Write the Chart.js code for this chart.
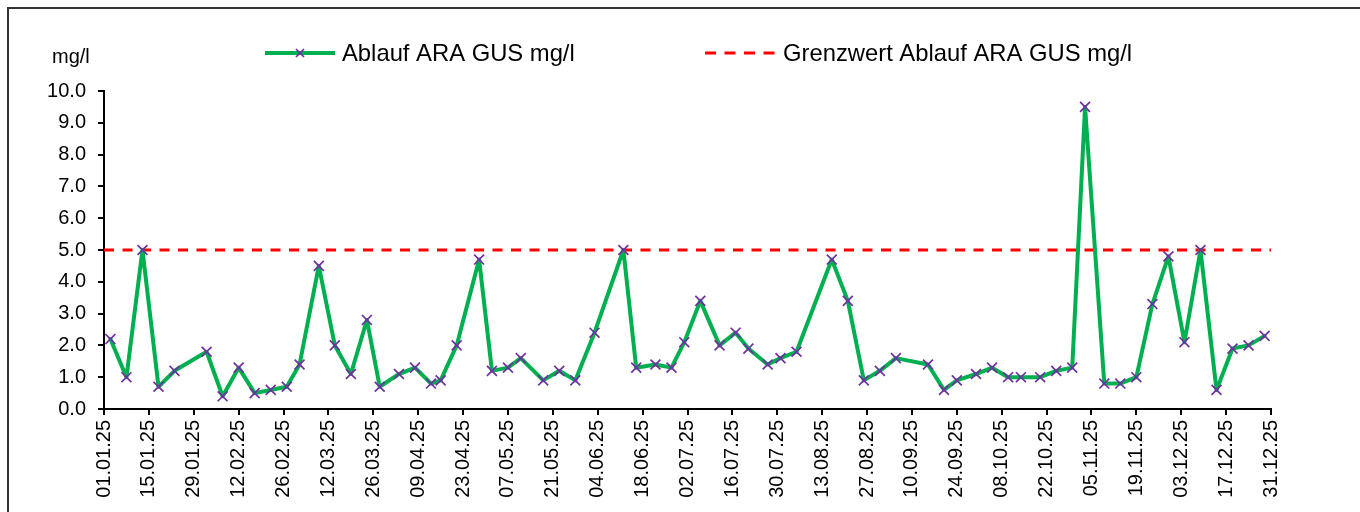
<!DOCTYPE html>
<html>
<head>
<meta charset="utf-8">
<script src="https://cdn.jsdelivr.net/npm/chart.js@4"></script>
<style>
  html, body { margin: 0; padding: 0; background: #fff; }
  #wrap { position: relative; width: 1360px; height: 512px; overflow: hidden; }
  #frame { position: absolute; left: 7px; top: 7px; width: 1400px; height: 600px;
           border-left: 2px solid #333; border-top: 2px solid #333; }
  canvas { position: absolute; left: 0; top: 0; }
</style>
</head>
<body>
<div id="wrap">
  <div id="frame"></div>
  <canvas id="c" width="1360" height="512"></canvas>
</div>
<script>
// ---- data ----
const seriesLabel = "Ablauf ARA GUS mg/l";
const limitLabel = "Grenzwert Ablauf ARA GUS mg/l";
const unitLabel = "mg/l";
const year = 2025;
const sampleDates = ["03.01","08.01","13.01","18.01","23.01","02.02","07.02","12.02","17.02","22.02",
  "27.02","03.03","09.03","14.03","19.03","24.03","28.03","03.04","08.04","13.04",
  "16.04","21.04","28.04","02.05","07.05","11.05","18.05","23.05","28.05","03.06",
  "12.06","16.06","22.06","27.06","01.07","06.07","12.07","17.07","21.07","27.07",
  "31.07","05.08","16.08","21.08","26.08","31.08","05.09","15.09","20.09","24.09",
  "30.09","05.10","10.10","14.10","20.10","25.10","30.10","03.11","09.11","14.11",
  "19.11","24.11","29.11","04.12","09.12","14.12","19.12","24.12","29.12"];
const sampleValues = [2.2,1.0,5.0,0.7,1.2,1.8,0.4,1.3,0.5,0.6,
  0.7,1.4,4.5,2.0,1.1,2.8,0.7,1.1,1.3,0.8,
  0.9,2.0,4.7,1.2,1.3,1.6,0.9,1.2,0.9,2.4,
  5.0,1.3,1.4,1.3,2.1,3.4,2.0,2.4,1.9,1.4,
  1.6,1.8,4.7,3.4,0.9,1.2,1.6,1.4,0.6,0.9,
  1.1,1.3,1.0,1.0,1.0,1.2,1.3,9.5,0.8,0.8,
  1.0,3.3,4.8,2.1,5.0,0.6,1.9,2.0,2.3];
const limitValue = 5.0;
const limitDates = ["01.01","31.12"];
const xTickLabels = ["01.01.25","15.01.25","29.01.25","12.02.25","26.02.25","12.03.25","26.03.25",
  "09.04.25","23.04.25","07.05.25","21.05.25","04.06.25","18.06.25","02.07.25","16.07.25",
  "30.07.25","13.08.25","27.08.25","10.09.25","24.09.25","08.10.25","22.10.25","05.11.25",
  "19.11.25","03.12.25","17.12.25","31.12.25"];
const yTicks = [0,1,2,3,4,5,6,7,8,9,10];

// day offset from 01.01
function dayIndex(s) {
  const [d, m] = s.split(".").map(Number);
  const t = Date.UTC(year, m - 1, d) - Date.UTC(year, 0, 1);
  return Math.round(t / 86400000);
}
const xMax = dayIndex("31.12");
const tickStep = 14;

const GREEN = "#00B050", PURPLE = "#7030A0", RED = "#FF0000";
const FONT = "'Liberation Sans', Arial, sans-serif";

const seriesData = sampleDates.map((d, i) => ({ x: dayIndex(d), y: sampleValues[i] }));
const limitData = limitDates.map(d => ({ x: dayIndex(d), y: limitValue }));

const customLegend = {
  id: "customLegend",
  afterDraw(chart) {
    const ctx = chart.ctx;
    const ds = chart.data.datasets;
    ctx.save();
    // unit label
    ctx.font = "20px " + FONT;
    ctx.fillStyle = "#000";
    ctx.textBaseline = "middle";
    ctx.textAlign = "left";
    ctx.fillText(unitLabel, 52, 57);
    // item 1
    const y = 53;
    ctx.strokeStyle = ds[0].borderColor;
    ctx.lineWidth = 4;
    ctx.beginPath(); ctx.moveTo(265, y); ctx.lineTo(335, y); ctx.stroke();
    ctx.strokeStyle = ds[0].pointBorderColor;
    ctx.lineWidth = 1.7;
    const r = 4;
    ctx.beginPath();
    ctx.moveTo(300 - r, y - r); ctx.lineTo(300 + r, y + r);
    ctx.moveTo(300 - r, y + r); ctx.lineTo(300 + r, y - r);
    ctx.stroke();
    ctx.font = "23.8px " + FONT;
    ctx.fillStyle = "#000";
    ctx.fillText(ds[0].label, 342, 54);
    // item 2
    ctx.strokeStyle = ds[1].borderColor;
    ctx.lineWidth = 3;
    ctx.setLineDash([11, 8.5]);
    ctx.beginPath(); ctx.moveTo(705, y); ctx.lineTo(775, y); ctx.stroke();
    ctx.setLineDash([]);
    ctx.fillText(ds[1].label, 783, 54);
    ctx.restore();
  }
};

new Chart(document.getElementById("c"), {
  type: "line",
  data: {
    datasets: [
      {
        label: seriesLabel,
        data: seriesData,
        borderColor: GREEN,
        borderWidth: 4,
        borderJoinStyle: "round",
        borderCapStyle: "round",
        pointStyle: "crossRot",
        pointRadius: 7,
        pointBorderColor: PURPLE,
        pointBackgroundColor: PURPLE,
        pointBorderWidth: 1.7,
        tension: 0,
        order: 1
      },
      {
        label: limitLabel,
        data: limitData,
        borderColor: RED,
        borderWidth: 3,
        borderDash: [10, 8.5],
        pointRadius: 0,
        tension: 0,
        order: 2
      }
    ]
  },
  options: {
    responsive: false,
    animation: false,
    devicePixelRatio: 1,
    layout: { padding: { left: 0, right: 89, top: 91, bottom: 0 } },
    plugins: { legend: { display: false }, tooltip: { enabled: false } },
    scales: {
      x: {
        type: "linear",
        min: 0,
        max: xMax,
        afterBuildTicks(scale) {
          scale.ticks = xTickLabels.map((_, i) => ({ value: i * tickStep }));
        },
        afterFit(scale) { scale.height = 103; },
        ticks: {
          autoSkip: false,
          minRotation: 90,
          maxRotation: 90,
          padding: 5,
          color: "#000",
          font: { family: FONT, size: 20 },
          callback: (v) => xTickLabels[Math.round(v / tickStep)] ?? ""
        },
        grid: { display: true, drawOnChartArea: false, drawTicks: true, tickLength: 6, color: "#000", lineWidth: 2 },
        border: { display: true, color: "#000", width: 2 }
      },
      y: {
        min: 0,
        max: 10,
        afterBuildTicks(scale) { scale.ticks = yTicks.map(v => ({ value: v })); },
        afterFit(scale) { scale.width = 104; },
        ticks: {
          padding: 12,
          color: "#000",
          font: { family: FONT, size: 20 },
          callback: (v) => Number(v).toFixed(1)
        },
        grid: { display: true, drawOnChartArea: false, drawTicks: true, tickLength: 6, color: "#000", lineWidth: 2 },
        border: { display: true, color: "#000", width: 2 }
      }
    }
  },
  plugins: [customLegend]
});
</script>
</body>
</html>
